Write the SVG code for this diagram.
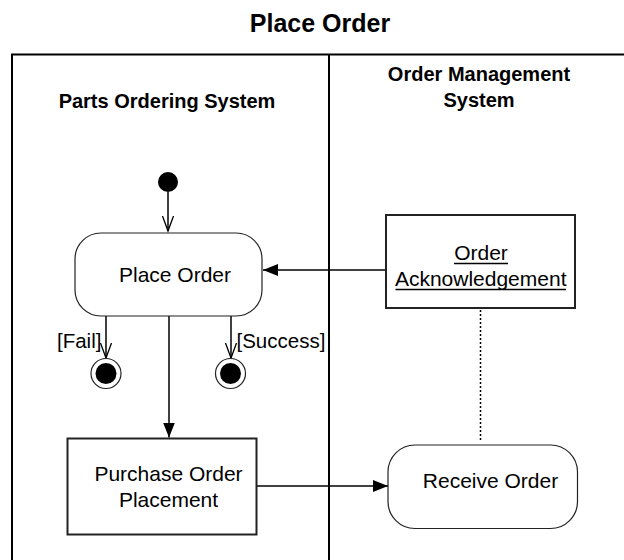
<svg xmlns="http://www.w3.org/2000/svg" width="624" height="560" viewBox="0 0 624 560">
  <style>
    text { font-family: "Liberation Sans", Arial, Helvetica, sans-serif; fill: #000; }
    .title { font-size: 25px; font-weight: bold; text-anchor: middle; }
    .lane-title { font-size: 20px; font-weight: bold; text-anchor: middle; }
    .label { font-size: 21px; text-anchor: middle; }
    .guard { font-size: 20.5px; }
    .lane { stroke: #000; stroke-width: 2; fill: none; }
    .action { fill: #fff; stroke: #222; stroke-width: 1.2; }
    .object { fill: #fff; stroke: #222; stroke-width: 2; }
    .flow { stroke: #000; stroke-width: 1.5; fill: none; }
    .dep { stroke: #000; stroke-width: 1.5; fill: none; stroke-dasharray: 2 2; }
    .uline { stroke: #000; stroke-width: 1.5; }
  </style>
  <defs>
    <marker id="arrow-filled" markerUnits="userSpaceOnUse" markerWidth="16" markerHeight="13" refX="15" refY="6" orient="auto">
      <path d="M0,0 L15,6 L0,12 z" fill="#000"/>
    </marker>
    <marker id="arrow-open" markerUnits="userSpaceOnUse" markerWidth="17" markerHeight="14" refX="15.5" refY="6.5" orient="auto">
      <path d="M0.5,1 L15.5,6.5 L0.5,12" fill="none" stroke="#000" stroke-width="1.3"/>
    </marker>
  </defs>

  <rect x="0" y="0" width="624" height="560" fill="#fff"/>

  <!-- diagram title -->
  <text class="title" x="320" y="31.5">Place Order</text>

  <!-- swimlanes -->
  <g id="swimlanes">
    <line class="lane" x1="11" y1="54.5" x2="624" y2="54.5"/>
    <line class="lane" x1="12" y1="54" x2="12" y2="560"/>
    <line class="lane" x1="329" y1="54" x2="329" y2="560"/>
    <text class="lane-title" x="167" y="108">Parts Ordering System</text>
    <text class="lane-title" x="479" y="81">Order Management</text>
    <text class="lane-title" x="479" y="107">System</text>
  </g>

  <!-- connectors -->
  <g id="connectors">
    <line class="flow" x1="168" y1="192" x2="168" y2="231" marker-end="url(#arrow-open)"/>
    <line class="flow" x1="106" y1="316" x2="106" y2="358" marker-end="url(#arrow-open)"/>
    <line class="flow" x1="231" y1="316" x2="231" y2="358" marker-end="url(#arrow-open)"/>
    <line class="flow" x1="169" y1="316" x2="169" y2="437.5" marker-end="url(#arrow-filled)"/>
    <line class="flow" x1="386" y1="270" x2="263" y2="270" marker-end="url(#arrow-filled)"/>
    <line class="flow" x1="256" y1="486" x2="388" y2="486" marker-end="url(#arrow-filled)"/>
    <line class="dep" x1="480.5" y1="310" x2="480.5" y2="440"/>
    <text class="guard" x="57" y="348">[Fail]</text>
    <text class="guard" x="236.5" y="348">[Success]</text>
  </g>

  <!-- initial node -->
  <g id="initial">
    <circle cx="168" cy="182" r="10" fill="#000"/>
  </g>

  <!-- Place Order action -->
  <g id="place-order">
    <rect class="action" x="75" y="233" width="187" height="83" rx="26" ry="26"/>
    <text class="label" x="175" y="281.5">Place Order</text>
  </g>

  <!-- final nodes -->
  <g id="final-fail">
    <circle cx="106" cy="373.5" r="15" fill="#fff" stroke="#222" stroke-width="1.2"/>
    <circle cx="106" cy="373.5" r="10.5" fill="#000"/>
  </g>
  <g id="final-success">
    <circle cx="230.5" cy="373.5" r="15" fill="#fff" stroke="#222" stroke-width="1.2"/>
    <circle cx="230.5" cy="373.5" r="10.5" fill="#000"/>
  </g>

  <!-- Order Acknowledgement object -->
  <g id="order-acknowledgement">
    <rect class="object" x="386" y="215" width="189" height="93"/>
    <text class="label" x="481" y="260">Order</text>
    <line class="uline" x1="454" y1="263.5" x2="508" y2="263.5"/>
    <text class="label" x="480.7" y="286">Acknowledgement</text>
    <line class="uline" x1="395.5" y1="289.5" x2="566" y2="289.5"/>
  </g>

  <!-- Purchase Order Placement action -->
  <g id="purchase-order-placement">
    <rect class="object" x="67.5" y="438.5" width="189" height="96"/>
    <text class="label" x="168.5" y="480.5">Purchase Order</text>
    <text class="label" x="168.5" y="507">Placement</text>
  </g>

  <!-- Receive Order action -->
  <g id="receive-order">
    <rect class="action" x="388" y="445" width="189.5" height="83.5" rx="27" ry="27"/>
    <text class="label" x="490.5" y="487.5">Receive Order</text>
  </g>
</svg>
